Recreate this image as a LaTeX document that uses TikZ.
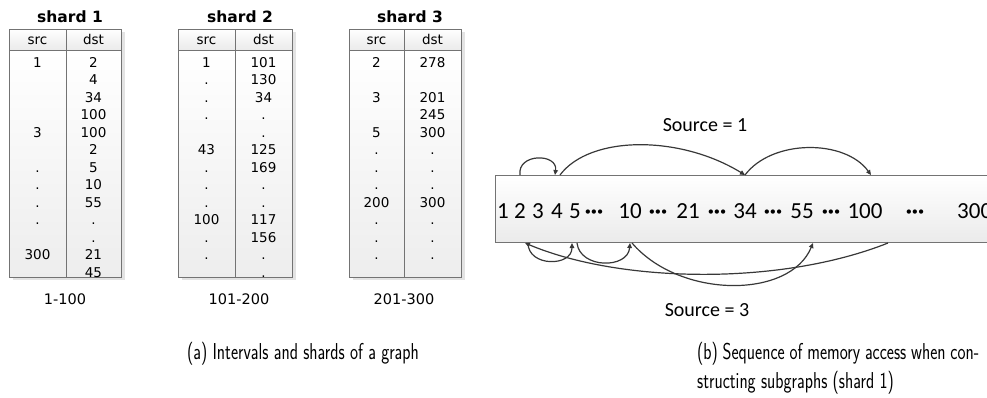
\documentclass[tikz,border=0pt]{standalone}
\usepackage{fontspec}
\usetikzlibrary{arrows.meta}
\newfontfamily\tabfont{DejaVu Sans}
\newfontfamily\calfont{Carlito}

% one shard: #1 name, #2 left, #3 divider, #4 right, #5 title x, #6 title,
% #7 src column entries, #8 dst column entries
\newcommand\drawshard[8]{%
  \fill[gray!22] (#2+4,32) rectangle (#4+4,280);
  \shade[top color=white,bottom color=gray!16,draw=framegray,line width=0.9pt]
    (#2,29) rectangle (#4,50);
  \shade[top color=white,bottom color=gray!14,draw=framegray,line width=0.9pt]
    (#2,50) rectangle (#4,277);
  \draw[framegray,line width=0.9pt] (#3,29) -- (#3,277);
  \node[shardtitle] (#1-title) at (#5,17) {#6};
  \node[cell] (#1-hsrc) at ({(#2+#3)/2},44) {src};
  \node[cell] (#1-hdst) at ({(#3+#4)/2},44) {dst};
  \foreach \v [count=\i] in {#7}
    \node[cell] (#1-s\i) at ({(#2+#3)/2},{67+(\i-1)*17.5}) {\v};
  \foreach \v [count=\i] in {#8}
    \node[cell] (#1-d\i) at ({(#3+#4)/2},{67+(\i-1)*17.5}) {\v};
}

\colorlet{framegray}{black!55}
\colorlet{linkgray}{black!78}

\begin{document}
\begin{tikzpicture}[x=1pt,y=-1pt,
  cell/.style={font=\tabfont\fontsize{13.5}{16}\selectfont,anchor=base,inner sep=0pt},
  shardtitle/.style={font=\tabfont\bfseries\fontsize{15.5}{18}\selectfont,inner sep=0pt},
  interval/.style={font=\tabfont\fontsize{14.5}{17}\selectfont,inner sep=0pt},
  num/.style={font=\calfont\fontsize{23}{27}\selectfont,anchor=base,inner sep=0pt},
  dots/.style={font=\calfont\bfseries\fontsize{23}{27}\selectfont,anchor=base,inner sep=0pt},
  srclabel/.style={font=\calfont\fontsize{20}{24}\selectfont,inner sep=0pt},
  caption/.style={font=\sffamily\fontsize{23}{28}\selectfont,anchor=base west,inner sep=0pt},
  link/.style={draw=linkgray,line width=1.2pt,-{Triangle[length=5pt,width=4.5pt]}},
  bar/.style={rectangle,draw=framegray,line width=1pt,top color=white,bottom color=gray!16,
    minimum width=530pt,minimum height=67pt,anchor=north west,inner sep=0pt}
]
\useasboundingbox (0,0) rectangle (987,397);

% ---------- (a) shards ----------
\drawshard{sa}{9}{66}{121}{70}{shard 1}
  {1,,,,3,,.,.,.,.,,300,}
  {2,4,34,100,100,2,5,10,55,.,.,21,45}
\drawshard{sb}{178}{235}{292}{240}{shard 2}
  {1,.,.,.,,43,.,.,.,100,.,.,}
  {101,130,34,.,.,125,169,.,.,117,156,.,.}
\drawshard{sc}{349}{404}{461}{410}{shard 3}
  {2,,3,,5,.,.,.,200,.,.,.,}
  {278,,201,245,300,.,.,.,300,.,.,.,}

\node[interval] (iv1) at (65,299) {1-100};
\node[interval] (iv2) at (239,299) {101-200};
\node[interval] (iv3) at (404,299) {201-300};

% ---------- (b) memory sequence ----------
\node[bar] (bar) at (495,175) {};

\node[num] (m1) at (503,218) {1};
\node[num] (m2) at (520,218) {2};
\node[num] (m3) at (538,218) {3};
\node[num] (m4) at (557,218) {4};
\node[num] (m5) at (575,218) {5};
\node[dots] (c1) at (594,218) {···};
\node[num] (m10) at (630,218) {10};
\node[dots] (c2) at (658,218) {···};
\node[num] (m21) at (688,218) {21};
\node[dots] (c3) at (717,218) {···};
\node[num] (m34) at (745,218) {34};
\node[dots] (c4) at (773,218) {···};
\node[num] (m55) at (802,218) {55};
\node[dots] (c5) at (831,218) {···};
\node[num] (m100) at (865,218) {100};
\node[dots] (c6) at (915,218) {···};
\node[num,anchor=base west] (m300) at (957,218) {300};

% attachment points on the bar edges
\path (m2 |- bar.north) coordinate (a2t);
\path (m4 |- bar.north) ++(-2,0) coordinate (a4t);
\path (m4 |- bar.north) ++(3,0) coordinate (a4s);
\path (m34 |- bar.north) coordinate (a34t);
\path (m100 |- bar.north) ++(6,0) coordinate (a100t);
\path (m2 |- bar.south) ++(5,0) coordinate (b2);
\path (m2 |- bar.south) ++(8,0) coordinate (b2s);
\path (m5 |- bar.south) ++(-3,0) coordinate (b5);
\path (m5 |- bar.south) ++(2,0) coordinate (b5s);
\path (m10 |- bar.south) coordinate (b10);
\path (m10 |- bar.south) ++(2,0) coordinate (b10s);
\path (m55 |- bar.south) ++(11,0) coordinate (b55);
\path (m100 |- bar.south) ++(23,0) coordinate (b100);

% source = 1 : 2, 4, 34, 100
\draw[link] (a2t) .. controls +(-3,-22) and +(3,-22) .. (a4t);
\draw[link] (a4s) .. controls +(30,-40) and +(-65,-40) .. (a34t);
\draw[link] (a34t) .. controls +(27,-36) and +(-26,-36) .. (a100t);

% source = 3 : 100, 2, 5, 10, 55
\draw[link] (b100) .. controls +(-108,43) and +(95,40) .. (b2);
\draw[link] (b2s) .. controls +(0,24) and +(0,24) .. (b5);
\draw[link] (b5s) .. controls +(3,26) and +(-2,26) .. (b10);
\draw[link] (b10s) .. controls +(48,56) and +(-23,56) .. (b55);

\node[srclabel] (src1) at (705,125) {Source = 1};
\node[srclabel] (src3) at (707,310) {Source = 3};

% ---------- captions ----------
\node[caption,anchor=base] (capa) at (303,359)
  {\scalebox{0.74}[1]{(a) Intervals and shards of a graph}};
\node[caption] (capb1) at (697,359)
  {\scalebox{0.74}[1]{\makebox[381pt][s]{(b) Sequence of memory access when con-}}};
\node[caption] (capb2) at (697,388)
  {\scalebox{0.74}[1]{structing subgraphs (shard 1)}};
\end{tikzpicture}
\end{document}
